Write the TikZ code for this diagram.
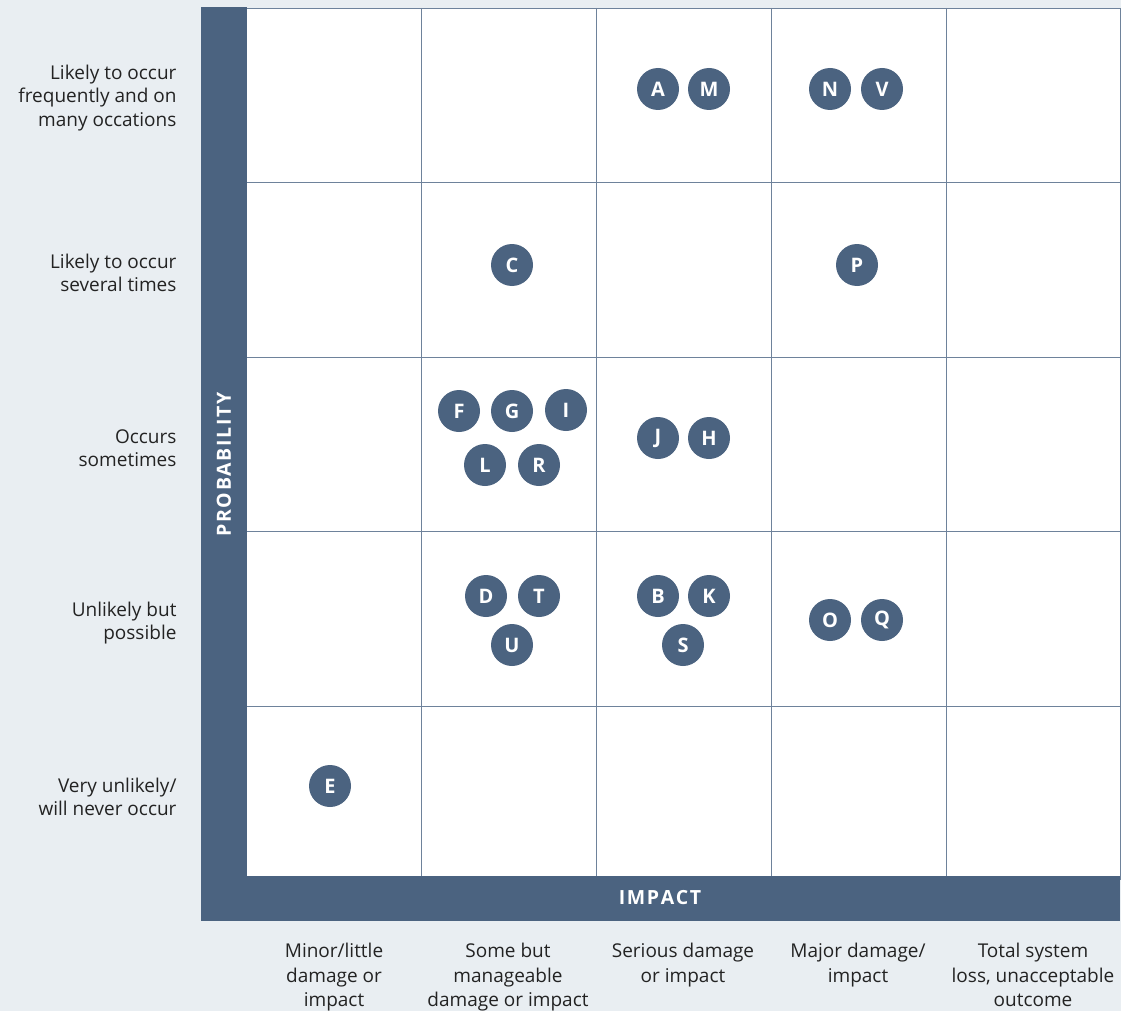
\documentclass[tikz,border=0pt]{standalone}
\usepackage{fontspec}
\setmainfont{Open Sans}
\newcommand{\ks}{\kern1.6pt}
\begin{document}
\begin{tikzpicture}[x=1pt,y=-1pt,
  bar/.style={fill=barc,draw=none},
  gridl/.style={draw=gridc,line width=0.9pt},
  dot/.style={circle,fill=barc,minimum size=42pt,inner sep=0pt,text=white,font=\fontsize{20}{20}\selectfont\bfseries},
  rowlab/.style={anchor=east,align=right,text=textc,font=\fontsize{19}{23.5}\selectfont},
  collab/.style={anchor=north,align=center,text=textc,font=\fontsize{19}{24.3}\selectfont},
  axlab/.style={text=white,font=\fontsize{19.5}{19.5}\selectfont\bfseries}]
\definecolor{barc}{RGB}{75,99,128}
\definecolor{bgc}{RGB}{233,238,242}
\definecolor{gridc}{RGB}{110,130,155}
\definecolor{textc}{RGB}{35,35,35}
\fill[bgc] (0,0) rectangle (1121,1011);
\useasboundingbox (0,0) rectangle (1121,1011);
% grid
\fill[white] (247,8) rectangle (1120,876);
\foreach \x in {421,596,771,946} \draw[gridl] (\x,8) -- (\x,876);
\foreach \y in {182,357,531,706} \draw[gridl] (247,\y) -- (1120,\y);
\draw[gridl] (247,8) -- (1120,8) -- (1120,880);
% bars
\fill[bar] (201,7) rectangle (247,921);
\fill[bar] (201,876) rectangle (1120,921);
\node[axlab,rotate=90] (prob) at (224,464.5) {P\ks R\ks O\ks B\ks A\ks B\ks I\ks L\ks I\ks T\ks Y};
\node[axlab] (imp) at (660,898) {I\ks M\ks P\ks A\ks C\ks T};
% row labels
\node[rowlab] (r1) at (180,98) {Likely to occur\\frequently and on\\many occations};
\node[rowlab] (r2) at (180,273) {Likely to occur\\several times};
\node[rowlab] (r3) at (180,448) {Occurs\\sometimes};
\node[rowlab] (r4) at (180,623) {Unlikely but\\possible};
\node[rowlab] (r5) at (180,797) {Very unlikely/\\will never occur};
% column labels
\node[collab] (c1) at (334,940) {Minor/little\\damage or\\impact};
\node[collab] (c2) at (508,940) {Some but\\manageable\\damage or impact};
\node[collab] (c3) at (683,940) {Serious damage\\or impact};
\node[collab] (c4) at (858,940) {Major damage/\\impact};
\node[collab] (c5) at (1033,940) {Total system\\loss, unacceptable\\outcome};
% dots
\node[dot] (A) at (658,89) {A};
\node[dot] (M) at (709,89) {M};
\node[dot] (N) at (830,89) {N};
\node[dot] (V) at (882,89) {V};
\node[dot] (C) at (512,265) {C};
\node[dot] (P) at (857,265) {P};
\node[dot] (F) at (459,411) {F};
\node[dot] (G) at (512,411) {G};
\node[dot] (I) at (566,410) {I};
\node[dot] (L) at (485,465) {L};
\node[dot] (R) at (539,465) {R};
\node[dot] (J) at (658,438) {J};
\node[dot] (H) at (709,438) {H};
\node[dot] (D) at (486,596) {D};
\node[dot] (T) at (539,596) {T};
\node[dot] (U) at (512,645) {U};
\node[dot] (B) at (658,596) {B};
\node[dot] (K) at (709,596) {K};
\node[dot] (S) at (683,645) {S};
\node[dot] (O) at (830,620) {O};
\node[dot] (Q) at (882,620) {Q};
\node[dot] (E) at (330,786) {E};
\end{tikzpicture}
\end{document}
